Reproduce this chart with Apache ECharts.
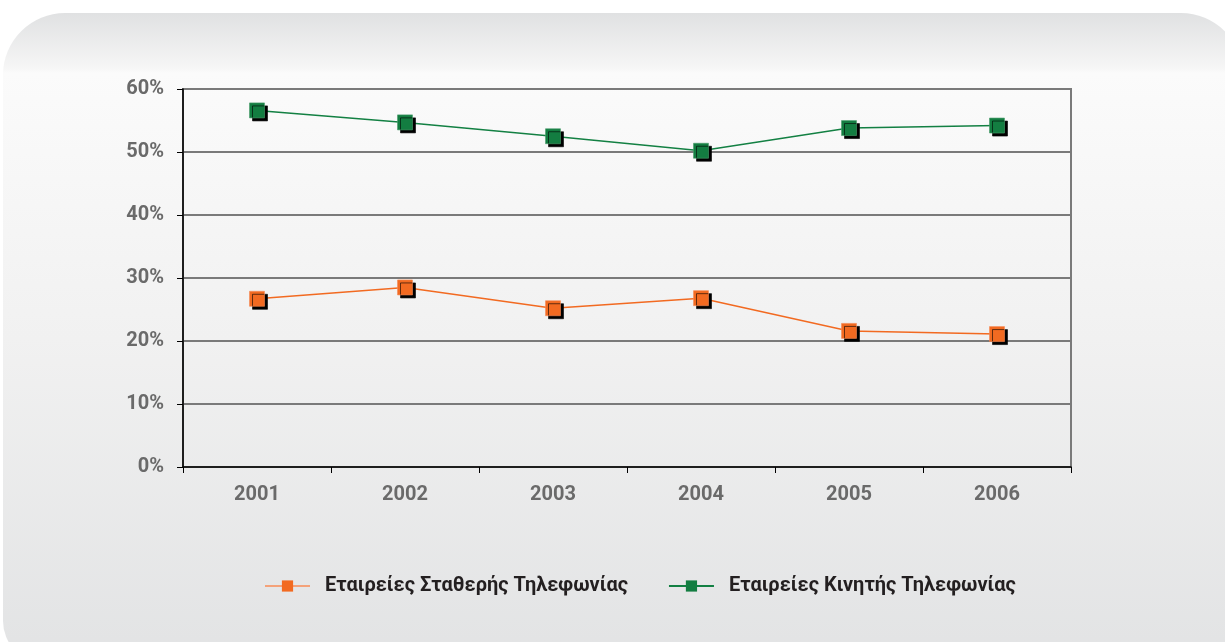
<!DOCTYPE html>
<html>
<head>
<meta charset="utf-8">
<script src="https://cdn.jsdelivr.net/npm/echarts@6/dist/echarts.min.js"></script>
<style>
html,body{margin:0;padding:0;background:#fff;}
#c{width:1225px;height:642px;}
</style>
</head>
<body>
<div id="c"></div>
<script>
const years = ['2001','2002','2003','2004','2005','2006'];
const fixedName = 'Εταιρείες Σταθερής Τηλεφωνίας';
const mobileName = 'Εταιρείες Κινητής Τηλεφωνίας';
const fixedValues = [26.7, 28.5, 25.2, 26.8, 21.6, 21.1];
const mobileValues = [56.6, 54.7, 52.5, 50.2, 53.8, 54.2];
const yTicks = [0, 10, 20, 30, 40, 50, 60];

const chart = echarts.init(document.getElementById('c'), null, {renderer:'canvas'});
const FONT = 'Roboto';
const shadow = {shadowColor:'#000', shadowBlur:0, shadowOffsetX:3, shadowOffsetY:3};

chart.setOption({
  backgroundColor: '#ffffff',
  animation: false,
  graphic: [{
    type: 'rect',
    z: -10,
    silent: true,
    shape: {x: 3, y: 13, width: 1240, height: 650, r: [62, 62, 0, 42]},
    style: {
      fill: new echarts.graphic.LinearGradient(0, 0, 0, 1, [
        {offset: 0, color: '#e0e1e2'},
        {offset: 0.085, color: '#f6f6f6'},
        {offset: 0.092, color: '#fbfbfb'},
        {offset: 0.5, color: '#f1f1f1'},
        {offset: 1, color: '#e2e3e4'}
      ])
    }
  }],
  grid: {
    left: 183, right: 154, top: 89, bottom: 175,
    show: true, borderColor: '#7a7a7a', borderWidth: 2,
    backgroundColor: 'transparent'
  },
  legend: {
    top: 571,
    left: 259,
    itemGap: 40,
    itemWidth: 45,
    itemHeight: 14,
    textStyle: {fontFamily: FONT, fontWeight: 'bold', fontSize: 20, color: '#231f20', padding: [0, 0, 0, 10]},
    itemStyle: {shadowColor: 'transparent', shadowOffsetX: 0, shadowOffsetY: 0, borderWidth: 0},
    data: [
      {name: fixedName, lineStyle: {color: '#f4a27a', width: 2}},
      {name: mobileName, lineStyle: {color: '#138043', width: 2}}
    ]
  },
  xAxis: {
    type: 'category',
    data: years,
    boundaryGap: true,
    axisLine: {lineStyle: {color: '#000', width: 1.5}},
    axisTick: {show: true, length: 6, alignWithLabel: false, lineStyle: {color: '#000', width: 1}},
    axisLabel: {margin: 18, fontFamily: FONT, fontWeight: 'bold', fontSize: 20, color: '#6a6a6a'},
    splitLine: {show: false}
  },
  yAxis: {
    type: 'value',
    min: 0, max: 60, interval: 10,
    axisLine: {show: true, lineStyle: {color: '#000', width: 1.5}},
    axisTick: {show: true, length: 6, lineStyle: {color: '#000', width: 1}},
    axisLabel: {
      margin: 19, fontFamily: FONT, fontWeight: 'bold', fontSize: 20, color: '#6a6a6a',
      formatter: v => yTicks.includes(v) ? v + '%' : ''
    },
    splitLine: {lineStyle: {color: '#7a7a7a', width: 2}}
  },
  series: [
    {
      name: fixedName,
      type: 'line',
      data: fixedValues,
      symbol: 'rect',
      symbolSize: 15,
      lineStyle: {color: '#f26a21', width: 1.5},
      itemStyle: Object.assign({color: '#f26a21', borderColor: '#f58a55', borderWidth: 0.6}, shadow),
      emphasis: {disabled: true}
    },
    {
      name: mobileName,
      type: 'line',
      data: mobileValues,
      symbol: 'rect',
      symbolSize: 15,
      lineStyle: {color: '#138043', width: 1.5},
      itemStyle: Object.assign({color: '#137d41', borderColor: '#4a9d6c', borderWidth: 0.6}, shadow),
      emphasis: {disabled: true}
    }
  ]
});
</script>
</body>
</html>
